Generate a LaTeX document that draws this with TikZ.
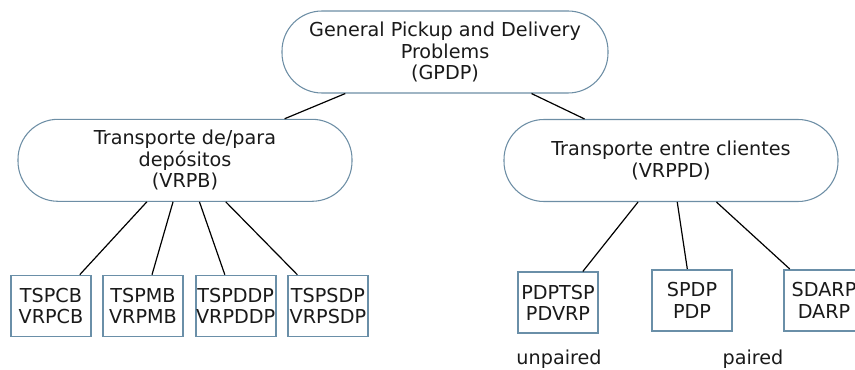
\documentclass[tikz,border=0pt]{standalone}
\usepackage{fontspec}
\setmainfont{DejaVu Sans}
\definecolor{rborder}{HTML}{6D8EA5}
\definecolor{bborder}{HTML}{6A8FA8}
\definecolor{txt}{HTML}{1A1A1A}
\begin{document}
\begin{tikzpicture}[x=0.75pt,y=-0.75pt,
  font=\fontsize{14.4}{16.2}\selectfont,
  every node/.style={text=txt},
  cat/.style={draw=rborder,line width=0.8pt,rounded corners=30pt,fill=white,align=center,inner sep=0pt,minimum height=61.5pt},
  leaf/.style={draw=bborder,line width=1.2pt,fill=white,align=center,inner sep=0pt,minimum width=60pt,minimum height=45.75pt},
  link/.style={draw=black,line width=0.9pt}]
\useasboundingbox (0,0) rectangle (855,370);
\clip (0,0) rectangle (855,370);
\node[cat,minimum width=244.5pt] (gpdp) at (445,52) {General Pickup and Delivery\\Problems\\(GPDP)};
\node[cat,minimum width=250.5pt] (vrpb) at (185,160.3) {Transporte de/para\\depósitos\\(VRPB)};
\node[cat,minimum width=250.5pt] (vrppd) at (671,160.5) {Transporte entre clientes\\(VRPPD)};
\node[leaf] (b1) at (51,306) {TSPCB\\VRPCB};
\node[leaf] (b2) at (143,306) {TSPMB\\VRPMB};
\node[leaf] (b3) at (235.7,306) {TSPDDP\\VRPDDP};
\node[leaf] (b4) at (328,306) {TSPSDP\\VRPSDP};
\node[leaf] (r1) at (558,302.7) {PDPTSP\\PDVRP};
\node[leaf] (r2) at (692,300.3) {SPDP\\PDP};
\node[leaf] (r3) at (824,300.3) {SDARP\\DARP};
\node (unp) at (559,359.5) {unpaired};
\node (pai) at (753,359.5) {paired};
\draw[link] (gpdp) -- (vrpb);
\draw[link] (gpdp) -- (vrppd);
\foreach \b in {b1,b2,b3,b4} \draw[link] (vrpb) -- (\b);
\foreach \b in {r1,r2,r3} \draw[link] (vrppd) -- (\b);
\end{tikzpicture}
\end{document}
